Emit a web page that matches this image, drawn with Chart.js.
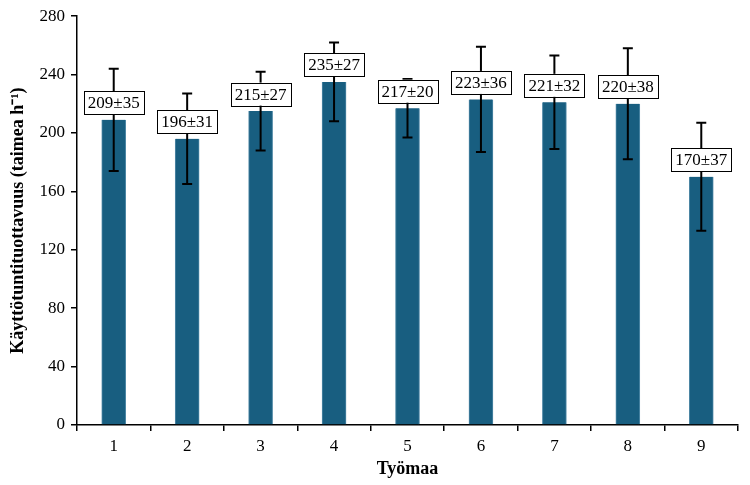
<!DOCTYPE html>
<html>
<head>
<meta charset="utf-8">
<script src="https://cdn.jsdelivr.net/npm/chart.js@4/dist/chart.umd.min.js"></script>
<style>
  html, body { margin: 0; padding: 0; background: #fff; }
  #wrap { width: 750px; height: 485px; }
</style>
</head>
<body>
<div id="wrap"><canvas id="chart"></canvas></div>
<script>
// Työmaat ja käyttötuntituottavuus (keskiarvo ± keskihajonta)
const tyomaat = ['1', '2', '3', '4', '5', '6', '7', '8', '9'];
const keskiarvot = [209, 196, 215, 235, 217, 223, 221, 220, 170];
const hajonnat = [35, 31, 27, 27, 20, 36, 32, 38, 37];
const yTicks = [0, 40, 80, 120, 160, 200, 240, 280];

const fontti = '"Liberation Serif", "Times New Roman", serif';

// virhepalkit ja arvolaatikot piirretään palkkien päälle
const virhePalkit = {
    id: 'virhePalkit',
    afterDatasetsDraw(chart) {
        const ctx = chart.ctx;
        const y = chart.scales.y;
        const meta = chart.getDatasetMeta(0);
        ctx.save();
        ctx.strokeStyle = '#000';
        ctx.lineWidth = 2;
        meta.data.forEach((bar, i) => {
            const x = bar.x;
            const top = y.getPixelForValue(keskiarvot[i] + hajonnat[i]);
            const bot = y.getPixelForValue(keskiarvot[i] - hajonnat[i]);
            ctx.beginPath();
            ctx.moveTo(x, top); ctx.lineTo(x, bot);
            ctx.moveTo(x - 5, top); ctx.lineTo(x + 5, top);
            ctx.moveTo(x - 5, bot); ctx.lineTo(x + 5, bot);
            ctx.stroke();
        });
        // laatikot
        ctx.font = '17px ' + fontti;
        ctx.textAlign = 'center';
        ctx.textBaseline = 'middle';
        meta.data.forEach((bar, i) => {
            const teksti = keskiarvot[i] + '±' + hajonnat[i];
            const w = ctx.measureText(teksti).width + 8;
            const h = 23;
            const cy = bar.y - 17;
            ctx.fillStyle = '#fff';
            ctx.fillRect(bar.x - w / 2, cy - h / 2, w, h);
            ctx.lineWidth = 1;
            ctx.strokeStyle = '#000';
            ctx.strokeRect(Math.round(bar.x - w / 2) + 0.5, Math.round(cy - h / 2) + 0.5, Math.round(w), h);
            ctx.fillStyle = '#000';
            ctx.fillText(teksti, bar.x, cy + 1);
        });
        ctx.restore();
    }
};

new Chart(document.getElementById('chart'), {
    type: 'bar',
    data: {
        labels: tyomaat,
        datasets: [{
            data: keskiarvot,
            backgroundColor: '#185e80',
            borderColor: '#4f88a6',
            borderWidth: { left: 1, right: 1, top: 0, bottom: 0 },
            barThickness: 24
        }]
    },
    options: {
        responsive: true,
        maintainAspectRatio: false,
        animation: false,
        layout: { padding: { top: 12, right: 12, left: 0, bottom: 0 } },
        plugins: {
            legend: { display: false },
            tooltip: { enabled: false }
        },
        scales: {
            x: {
                grid: { drawOnChartArea: false, drawTicks: true, tickLength: 6, color: '#000', lineWidth: 1.5, offset: true },
                border: { color: '#000', width: 1.5 },
                ticks: { color: '#000', font: { family: fontti, size: 17 }, padding: 5 },
                title: { display: true, text: 'Työmaa', color: '#000', font: { family: fontti, size: 18, weight: 'bold' }, padding: { top: 0, bottom: 5 } },
                afterFit: s => { s.height = 60; }
            },
            y: {
                min: 0,
                max: 280,
                afterBuildTicks: s => { s.ticks = yTicks.map(v => ({ value: v })); },
                grid: { drawOnChartArea: false, drawTicks: true, tickLength: 6, color: '#000', lineWidth: 1.5 },
                border: { color: '#000', width: 1.5 },
                ticks: { color: '#000', font: { family: fontti, size: 17 }, padding: 6 },
                title: { display: true, text: 'Käyttötuntituottavuus (taimea h⁻¹)', color: '#000', font: { family: fontti, size: 18, weight: 'bold' }, padding: { top: 8, bottom: 4 } },
                afterFit: s => { s.width = 77; }
            }
        }
    },
    plugins: [virhePalkit]
});
</script>
</body>
</html>
